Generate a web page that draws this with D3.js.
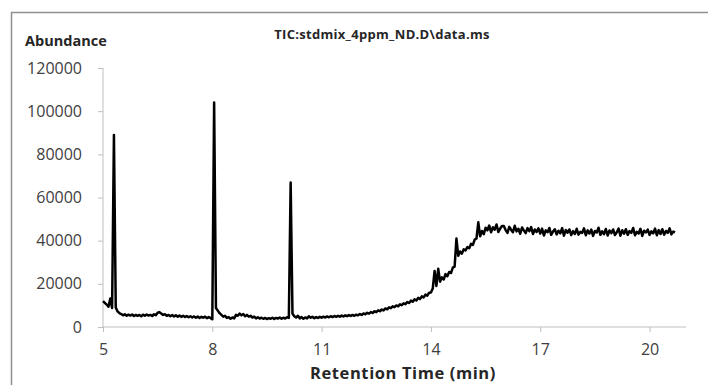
<!DOCTYPE html>
<html>
<head>
<meta charset="utf-8">
<script src="https://cdn.jsdelivr.net/npm/d3@7"></script>
<style>
  html, body { margin: 0; padding: 0; background: #fff; }
  svg { display: block; }
  text { font-family: "Open Sans", "DejaVu Sans", sans-serif; }
</style>
</head>
<body>
<svg id="chart" width="708" height="385"></svg>
<script>
// ---- data ----
const title = "TIC:stdmix_4ppm_ND.D\\data.ms";
const yTitle = "Abundance";
const xTitle = "Retention Time (min)";
const xTicks = [5, 8, 11, 14, 17, 20];
const yTicks = [0, 20000, 40000, 60000, 80000, 100000, 120000];
const startTime = 5.0;   // min
const timeStep = 0.05;   // min, scan interval of the sampled trace
// abundance, one row per minute (20 scans)
const abundance = [
  // 5.00 - 5.95
  12000, 11200, 10400, 9400, 13200, 8800, 89000, 9000, 7200, 6400, 6000, 5400, 5900, 5200, 5700, 5300, 5800, 5100, 5600, 5200,
  // 6.00 - 6.95
  5600, 5000, 5700, 5200, 5800, 5300, 5600, 5100, 5900, 5500, 6600, 6900, 6200, 5600, 5900, 5200, 5600, 5000, 5500, 4900,
  // 7.00 - 7.95
  5400, 4800, 5300, 4700, 5200, 4600, 5100, 4500, 5000, 4400, 4900, 4300, 4800, 4200, 4700, 4300, 4800, 4100, 4600, 4200,
  // 8.00 - 8.95
  3600, 104000, 8800, 7600, 6400, 5600, 4800, 5200, 4200, 4600, 3800, 4400, 4000, 5600, 5200, 6200, 5400, 6000, 5000, 5600,
  // 9.00 - 9.95
  4800, 5200, 4400, 4800, 4000, 4500, 3900, 4300, 3800, 4200, 3700, 4100, 3800, 4300, 3700, 4200, 3900, 4400, 3800, 4300,
  // 10.00 - 10.95
  3900, 4500, 4200, 67000, 6200, 5000, 4400, 5200, 4000, 4600, 3800, 4400, 4000, 5000, 4300, 4700, 4100, 4600, 4200, 4700,
  // 11.00 - 11.95
  4300, 4800, 4400, 4900, 4500, 5000, 4600, 5100, 4700, 5200, 4800, 5300, 4900, 5400, 5000, 5500, 5100, 5600, 5200, 5700,
  // 12.00 - 12.95
  5400, 6000, 5600, 6300, 5900, 6600, 6200, 6900, 6500, 7300, 6900, 7700, 7300, 8100, 7700, 8600, 8200, 9100, 8700, 9600,
  // 13.00 - 13.95
  9200, 10000, 9600, 10500, 10100, 11000, 10600, 11600, 11100, 12200, 11700, 12800, 12300, 13500, 13000, 14200, 13700, 15000, 14500, 15900,
  // 14.00 - 14.95
  16000, 17800, 26000, 19000, 27000, 21000, 23000, 22000, 24500, 23500, 25500, 25000, 27500, 28000, 41000, 33000, 35000, 34000, 36000, 35500,
  // 15.00 - 15.95
  37000, 36500, 38500, 38000, 40500, 41000, 48500, 42000, 44500, 43000, 46000, 44800, 47000, 43900, 46200, 45100, 47500, 44000, 45600, 46800,
  // 16.00 - 16.95
  46800, 44900, 43600, 46400, 45100, 43900, 46900, 44300, 45500, 43200, 46100, 44700, 43500, 45800, 44400, 46300, 43100, 45200, 44000, 45700,
  // 17.00 - 17.95
  43300, 45600, 42400, 44800, 43900, 45900, 42700, 44200, 45300, 42900, 44600, 43400, 45800, 42300, 44900, 43700, 45200, 42600, 44400, 43100,
  // 18.00 - 18.95
  45500, 42800, 44100, 43600, 45700, 42500, 44800, 43300, 45100, 42200, 44500, 43800, 46000, 42700, 44300, 43000, 45400, 42400, 44700, 43500,
  // 19.00 - 19.95
  45200, 42600, 43900, 45600, 42300, 44800, 43200, 45300, 42700, 44400, 43600, 45900, 42500, 44100, 43300, 45500, 42200, 44600, 43800, 45100,
  // 20.00 - 20.70
  42700, 44300, 43400, 45600, 42500, 44900, 43100, 45300, 42800, 44500, 43600, 45700, 42900, 44200, 43800
];
const series = abundance.map((v, i) => ({ t: startTime + i * timeStep, v }));

// ---- layout ----
const svg = d3.select("#chart");
const x = d3.scaleLinear().domain([5, 21]).range([103, 686]);
const y = d3.scaleLinear().domain([0, 120000]).range([327, 68]);
const axisColor = "#bfbfbf";
const labelColor = "#404040";

// outer chart-area frame
svg.append("rect")
  .attr("x", 11.5).attr("y", 12.5)
  .attr("width", 760).attr("height", 420)
  .attr("fill", "none").attr("stroke", "#8f8f8f").attr("stroke-width", 1.5);

// axes
const yAxis = d3.axisLeft(y).tickValues(yTicks).tickSize(5).tickPadding(16)
  .tickFormat(d3.format("d"));
const gy = svg.append("g").attr("transform", `translate(${x(5)},0)`).call(yAxis);
gy.select(".domain").attr("stroke", axisColor).attr("d", `M0,${y(120000)}V${y(0)}`);
gy.selectAll(".tick line").attr("stroke", axisColor);
gy.selectAll(".tick text").attr("fill", labelColor)
  .style("font-size", "16px").style("font-family", "'Open Sans', sans-serif");

const xAxis = d3.axisBottom(x).tickValues(xTicks).tickSize(5).tickPadding(12)
  .tickFormat(d3.format("d"));
const gx = svg.append("g").attr("transform", `translate(0,${y(0)})`).call(xAxis);
gx.select(".domain").attr("stroke", axisColor).attr("d", `M${x(5)},0H${x(21)}`);
gx.selectAll(".tick line").attr("stroke", axisColor);
gx.selectAll(".tick text").attr("fill", labelColor)
  .style("font-size", "16px").style("font-family", "'Open Sans', sans-serif");

// trace
const line = d3.line().x(d => x(d.t)).y(d => y(d.v));
svg.append("path").datum(series)
  .attr("d", line)
  .attr("fill", "none").attr("stroke", "#000")
  .attr("stroke-width", 2.5).attr("stroke-linejoin", "round");

// titles
svg.append("text").attr("x", 25).attr("y", 46)
  .attr("font-size", 14.5).attr("font-weight", "bold").attr("fill", "#262626")
  .text(yTitle);
svg.append("text").attr("x", 382).attr("y", 39).attr("text-anchor", "middle")
  .attr("font-size", 13).attr("font-weight", "bold").attr("fill", "#262626")
  .attr("letter-spacing", 0.3)
  .text(title);
svg.append("text").attr("x", 403).attr("y", 379).attr("text-anchor", "middle")
  .attr("font-size", 16.5).attr("font-weight", "bold").attr("fill", "#262626")
  .attr("letter-spacing", 0.6)
  .text(xTitle);
</script>
</body>
</html>
